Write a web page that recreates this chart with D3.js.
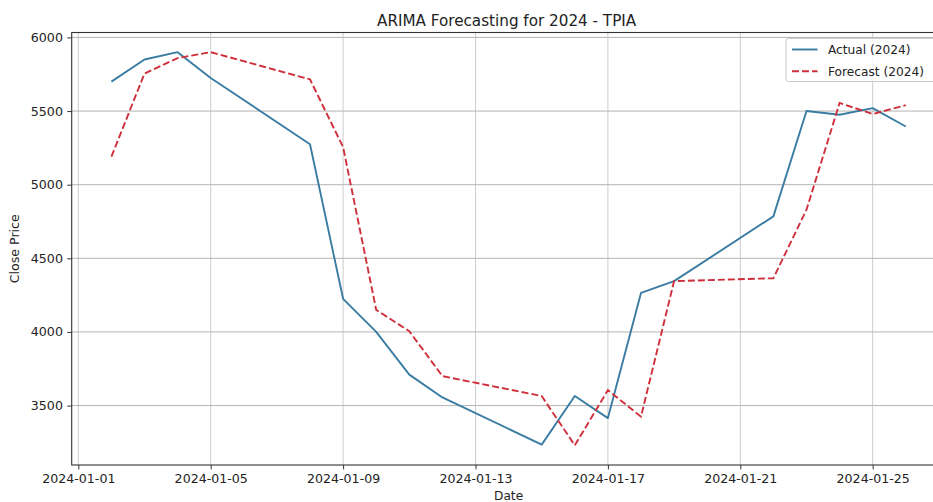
<!DOCTYPE html>
<html>
<head>
<meta charset="utf-8">
<script src="https://cdn.jsdelivr.net/npm/d3@7"></script>
<style>
  html, body { margin: 0; padding: 0; background: #ffffff; }
  svg { display: block; }
  text { font-family: "DejaVu Sans", sans-serif; fill: #222; }
</style>
</head>
<body>
<svg id="chart" width="933" height="502"></svg>
<script>
// Trading days of January 2024
const dates = [
  "2024-01-02", "2024-01-03", "2024-01-04", "2024-01-05", "2024-01-08",
  "2024-01-09", "2024-01-10", "2024-01-11", "2024-01-12", "2024-01-15",
  "2024-01-16", "2024-01-17", "2024-01-18", "2024-01-19", "2024-01-22",
  "2024-01-23", "2024-01-24", "2024-01-25", "2024-01-26"
];

// Close prices (actual)
const actual = [
  5700, 5850, 5900, 5725, 5275,
  4225, 4000, 3710, 3555, 3235,
  3565, 3415, 4265, 4345, 4785,
  5500, 5475, 5520, 5395
];

// ARIMA one-step forecasts
const forecast = [
  5190, 5755, 5860, 5900, 5715,
  5255, 4150, 4005, 3700, 3565,
  3230, 3605, 3425, 4345, 4365,
  4830, 5555, 5480, 5540
];

const yTicks = [3500, 4000, 4500, 5000, 5500, 6000];
const xTickLabels = ["2024-01-01", "2024-01-05", "2024-01-09", "2024-01-13",
                     "2024-01-17", "2024-01-21", "2024-01-25"];

const seriesNames = ["Actual (2024)", "Forecast (2024)"];
const seriesColors = ["#3a7ca2", "#cf2f3a"];

const svg = d3.select("#chart");
const parse = d3.utcParse("%Y-%m-%d");

const plot = { left: 71.7, right: 945.5, top: 32.5, bottom: 465 };

const t0 = parse(dates[0]), t1 = parse(dates[dates.length - 1]);
const xPad = (t1 - t0) * 0.05;
const x = d3.scaleUtc()
  .domain([new Date(+t0 - xPad), new Date(+t1 + xPad)])
  .range([plot.left, plot.right]);

const allVals = actual.concat(forecast);
const [vMin, vMax] = d3.extent(allVals);
const yPad = (vMax - vMin) * 0.05;
const y = d3.scaleLinear()
  .domain([vMin - yPad, vMax + yPad])
  .range([plot.bottom, plot.top]);

const xTickDates = xTickLabels.map(parse);

// clip region for plotted content
svg.append("defs").append("clipPath").attr("id", "clip")
  .append("rect")
  .attr("x", plot.left).attr("y", plot.top)
  .attr("width", plot.right - plot.left).attr("height", plot.bottom - plot.top);

// grid
const grid = svg.append("g").attr("clip-path", "url(#clip)");
grid.selectAll("line.vg").data(xTickDates).enter().append("line")
  .attr("class", "vg")
  .attr("x1", d => x(d)).attr("x2", d => x(d))
  .attr("y1", plot.top).attr("y2", plot.bottom)
  .attr("stroke", "#cdcdcd").attr("stroke-width", 1);
grid.selectAll("line.hg").data(yTicks).enter().append("line")
  .attr("class", "hg")
  .attr("x1", plot.left).attr("x2", plot.right)
  .attr("y1", d => y(d)).attr("y2", d => y(d))
  .attr("stroke", "#b4b4b4").attr("stroke-width", 1);

// lines
const line = (vals) => d3.line()
  .x((d, i) => x(parse(dates[i])))
  .y(d => y(d))(vals);

const lines = svg.append("g").attr("clip-path", "url(#clip)");
lines.append("path")
  .attr("d", line(actual))
  .attr("fill", "none")
  .attr("stroke", seriesColors[0])
  .attr("stroke-width", 1.9)
  .attr("stroke-linejoin", "round");
lines.append("path")
  .attr("d", line(forecast))
  .attr("fill", "none")
  .attr("stroke", seriesColors[1])
  .attr("stroke-width", 1.9)
  .attr("stroke-dasharray", "7,3");

// axes
const xAxis = d3.axisBottom(x)
  .tickValues(xTickDates)
  .tickFormat(d3.utcFormat("%Y-%m-%d"))
  .tickSizeInner(4.4).tickSizeOuter(0).tickPadding(4.4);
const gx = svg.append("g")
  .attr("transform", `translate(0,${plot.bottom})`)
  .call(xAxis);
gx.select(".domain").remove();
gx.selectAll("line").attr("stroke", "#333");
gx.selectAll("text").attr("font-size", "12.6px")
  .attr("font-family", "DejaVu Sans, sans-serif").attr("fill", "#222");

const yAxis = d3.axisLeft(y)
  .tickValues(yTicks)
  .tickFormat(d3.format("d"))
  .tickSizeInner(4.4).tickSizeOuter(0).tickPadding(4.4);
const gy = svg.append("g")
  .attr("transform", `translate(${plot.left},0)`)
  .call(yAxis);
gy.select(".domain").remove();
gy.selectAll("line").attr("stroke", "#333");
gy.selectAll("text").attr("font-size", "12.6px")
  .attr("font-family", "DejaVu Sans, sans-serif").attr("fill", "#222");

// spines
svg.append("rect")
  .attr("x", plot.left).attr("y", plot.top)
  .attr("width", plot.right - plot.left).attr("height", plot.bottom - plot.top)
  .attr("fill", "none").attr("stroke", "#333").attr("stroke-width", 1.1);

// title and axis labels
svg.append("text")
  .attr("x", (plot.left + plot.right) / 2 - 2).attr("y", 25.5)
  .attr("text-anchor", "middle")
  .attr("font-size", "15.2px")
  .text("ARIMA Forecasting for 2024 - TPIA");

svg.append("text")
  .attr("x", (plot.left + plot.right) / 2).attr("y", 499.5)
  .attr("text-anchor", "middle")
  .attr("font-size", "12.2px")
  .text("Date");

svg.append("text")
  .attr("transform", `translate(19,${(plot.top + plot.bottom) / 2}) rotate(-90)`)
  .attr("text-anchor", "middle")
  .attr("font-size", "12.6px")
  .text("Close Price");

// legend
const leg = svg.append("g");
leg.append("rect")
  .attr("x", 786).attr("y", 38.5)
  .attr("width", 153).attr("height", 43)
  .attr("rx", 2.5)
  .attr("fill", "#ffffff").attr("fill-opacity", 0.8)
  .attr("stroke", "#cccccc").attr("stroke-width", 1);
seriesNames.forEach((name, i) => {
  const yy = 49.5 + i * 21.8;
  leg.append("line")
    .attr("x1", 792).attr("x2", 817.5)
    .attr("y1", yy).attr("y2", yy)
    .attr("stroke", seriesColors[i]).attr("stroke-width", 1.9)
    .attr("stroke-dasharray", i === 1 ? "7,3" : null);
  leg.append("text")
    .attr("x", 828).attr("y", yy)
    .attr("dy", "0.35em")
    .attr("font-size", "12.2px")
    .text(name);
});
</script>
</body>
</html>
